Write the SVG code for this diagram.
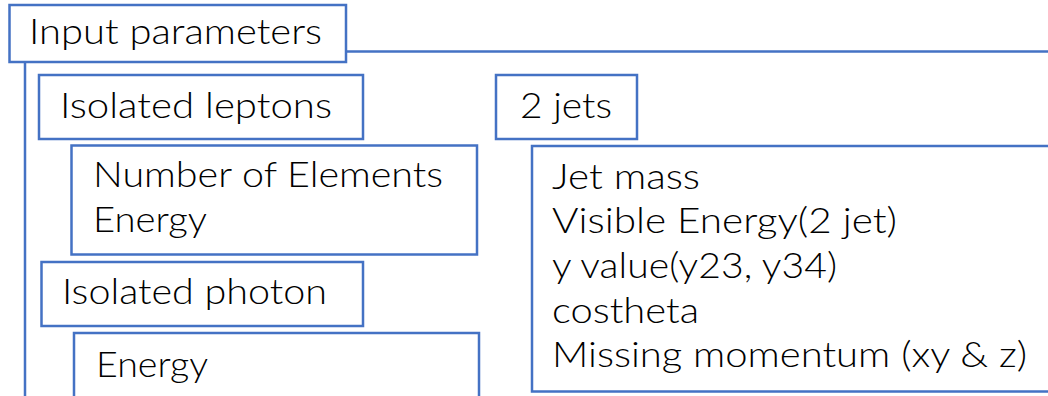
<svg xmlns="http://www.w3.org/2000/svg" width="1048" height="396" viewBox="0 0 1048 396">
<style>
.box{fill:#ffffff;stroke:#4472C4;stroke-width:2.5}
.ln{fill:none;stroke:#4472C4;stroke-width:2.5}
text{font-family:Lato,"Noto Sans",sans-serif;font-size:36px;font-weight:300;fill:#000000}
</style>
<rect width="1048" height="396" fill="#ffffff"/>
<g id="connectors">
<line class="ln" x1="346" y1="51.5" x2="1050" y2="51.5"/>
<line class="ln" x1="25" y1="62" x2="25" y2="398"/>
</g>
<g id="input-parameters">
<rect class="box" x="9.5" y="5" width="336.5" height="57"/>
<text x="29" y="44" textLength="293" lengthAdjust="spacingAndGlyphs">Input parameters</text>
</g>
<g id="isolated-leptons">
<rect class="box" x="39" y="75" width="324" height="64"/>
<text x="60" y="118" textLength="272" lengthAdjust="spacingAndGlyphs">Isolated leptons</text>
</g>
<g id="two-jets">
<rect class="box" x="496" y="75" width="141" height="64"/>
<text x="520" y="118" textLength="92" lengthAdjust="spacingAndGlyphs">2 jets</text>
</g>
<g id="lepton-params">
<rect class="box" x="71.5" y="145.5" width="405.5" height="109"/>
<text x="93" y="187" textLength="350" lengthAdjust="spacingAndGlyphs">Number of Elements</text>
<text x="93" y="232" textLength="114" lengthAdjust="spacingAndGlyphs">Energy</text>
</g>
<g id="isolated-photon">
<rect class="box" x="41.5" y="262" width="321.5" height="64"/>
<text x="62" y="304" textLength="265" lengthAdjust="spacingAndGlyphs">Isolated photon</text>
</g>
<g id="photon-params">
<rect class="box" x="74" y="333" width="405" height="80"/>
<text x="96" y="377" textLength="112" lengthAdjust="spacingAndGlyphs">Energy</text>
</g>
<g id="jet-params">
<rect class="box" x="532" y="146" width="540" height="245.5"/>
<text x="552" y="189" textLength="148" lengthAdjust="spacingAndGlyphs">Jet mass</text>
<text x="552" y="233" textLength="345" lengthAdjust="spacingAndGlyphs">Visible Energy(2 jet)</text>
<text x="552" y="278" textLength="285" lengthAdjust="spacingAndGlyphs">y value(y23, y34)</text>
<text x="552" y="323" textLength="147" lengthAdjust="spacingAndGlyphs">costheta</text>
<text x="552" y="367" textLength="475" lengthAdjust="spacingAndGlyphs">Missing momentum (xy &amp; z)</text>
</g>
</svg>
